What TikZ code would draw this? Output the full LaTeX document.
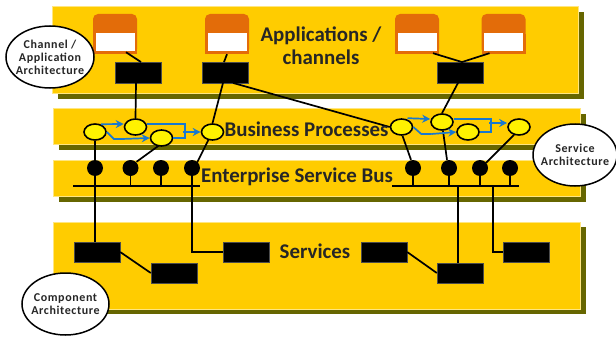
\documentclass[tikz,border=0pt]{standalone}
\usepackage{fontspec}
\setmainfont{Carlito}
\newfontfamily\calloutfont[LetterSpace=5]{Carlito}
\usetikzlibrary{calc,shapes.geometric,arrows.meta}
\definecolor{bandy}{HTML}{FFCC00}
\definecolor{bandedge}{HTML}{FFE680}
\definecolor{shade}{HTML}{666600}
\definecolor{orng}{HTML}{E36C09}
\definecolor{flow}{HTML}{1878D0}
\definecolor{ink}{HTML}{262626}
\tikzset{
  x=1pt,y=-1pt,
  band/.style={fill=bandy,draw=bandedge,line width=.8pt},
  bandshadow/.style={fill=shade,draw=none},
  win/.style={rectangle,fill=orng,draw=none,rounded corners=5pt,minimum width=44pt,minimum height=40pt,inner sep=0pt},
  winsq/.style={fill=orng,draw=none},
  pane/.style={fill=white,draw=none},
  blk/.style={rectangle,fill=black,draw=black!70,line width=.4pt,minimum width=46pt,minimum height=20.5pt,inner sep=0pt},
  proc/.style={ellipse,fill=yellow,draw=black,line width=1.6pt,minimum width=22pt,minimum height=16pt,inner sep=0pt},
  dot/.style={circle,fill=black,minimum size=16pt,inner sep=0pt},
  bus/.style={rectangle,fill=black,minimum height=2.2pt,inner sep=0pt},
  conn/.style={draw=black,line width=1.7pt},
  flowline/.style={draw=flow,line width=1.7pt},
  flowarrow/.style={draw=flow,line width=1.7pt,-{Stealth[length=8pt,width=8pt]}},
  title/.style={text=ink,font=\bfseries\fontsize{20.9}{23}\selectfont,align=center,inner sep=0pt},
  callout/.style={ellipse,fill=white,draw=black,line width=1.5pt,inner sep=0pt},
  callouttext/.style={inner sep=0pt,align=center,text=ink,font=\calloutfont\bfseries\fontsize{12}{13}\selectfont},
}
\begin{document}
\begin{tikzpicture}
\useasboundingbox (0,0) rectangle (616,337);
% bands
\fill[bandshadow] (58,12) rectangle (584,99);
\draw[band] (52.5,6.5) rectangle (578.5,93.5);
\fill[bandshadow] (59,114) rectangle (586,150);
\draw[band] (53.5,108.5) rectangle (580.5,144);
\fill[bandshadow] (59,166) rectangle (586,202);
\draw[band] (53.5,160.5) rectangle (580.5,196);
\fill[bandshadow] (59,227) rectangle (586,314);
\draw[band] (53.5,222.5) rectangle (580.5,309);
% application windows
\foreach \n/\cx in {w1/115,w2/227,w3/417,w4/503.5}{
  \node[win] (\n) at (\cx,34) {};
  \fill[winsq] (\cx-22,34) rectangle (\cx+22,54);
  \fill[pane] (\cx-19.5,33.5) rectangle (\cx+19.5,51);
}
% black boxes
\node[blk] (b1) at (138,72.5) {};
\node[blk] (b2) at (225,72.5) {};
\node[blk] (b3) at (460,72.5) {};
\node[blk] (s1) at (97,252) {};
\node[blk] (s2) at (174,273) {};
\node[blk] (s3) at (246,252) {};
\node[blk] (s4) at (384,252) {};
\node[blk] (s5) at (460,273) {};
\node[blk] (s6) at (526,252) {};
% process ellipses
\node[proc] (y1) at (95,132) {};
\node[proc] (y2) at (135.5,127) {};
\node[proc] (y3) at (161.5,138) {};
\node[proc] (y4) at (212.5,132) {};
\node[proc] (y5) at (401.5,127) {};
\node[proc] (y6) at (442,122) {};
\node[proc] (y7) at (468,132) {};
\node[proc] (y8) at (519,127) {};
% bus
\node[bus,minimum width=127pt] (bus1) at (136.5,186) {};
\node[bus,minimum width=127pt] (bus2) at (455.5,186) {};
% dots
\foreach \n/\cx in {d1/95,d2/130.5,d3/161,d4/192,d5/413,d6/449,d7/480,d8/510}
  \node[dot] (\n) at (\cx,168) {};
% window to black box
\draw[conn] ($(w1.south)+(11,-2)$) -- ($(b1.north)+(3,0)$);
\draw[conn] ($(w2.south)+(0,0)$) -- ($(b2.north)+(-1,0)$);
\draw[conn] ($(w3.south)+(16,-1)$) -- ($(b3.north)+(2,0)$);
\draw[conn] ($(w4.south)+(-14,-1)$) -- ($(b3.north)+(2,0)$);
% black box to process
\draw[conn] ($(b1.south)+(-2,0)$) -- (y2.north);
\draw[conn] ($(b2.south)+(-2,0)$) -- (y4.north);
\draw[conn] ($(b2.south)+(8,0)$) -- (y5.west);
\draw[conn] ($(b3.south)+(-2,0)$) -- (y6.north);
% process to dot
\draw[conn] (y1.south) -- (d1.north);
\draw[conn] ($(y3.south)+(-3,-1)$) -- ($(d2.north)+(6,2)$);
\draw[conn] ($(y4.south)+(-4,-1)$) -- ($(d4.north)+(5,3)$);
\draw[conn] ($(y5.south)+(1,0)$) -- ($(d5.north)+(-2,0)$);
\draw[conn] ($(y6.south)+(1,0)$) -- ($(d6.north)+(-2,0)$);
\draw[conn] ($(y8.south)+(-5,-1)$) -- ($(d7.north)+(6,3)$);
% stems
\foreach \n/\b in {d1/bus1,d2/bus1,d3/bus1,d4/bus1,d5/bus2,d6/bus2,d7/bus2,d8/bus2}
  \draw[conn] (\n.south) -- (\n.south |- \b.north);
% bus to services
\draw[conn] (d1.south) -- (d1.south |- s1.north);
\draw[conn] (d4.south) |- (s3.west);
\coordinate (tap5) at ($(bus2.south)+(2.5,0)$);
\draw[conn] (tap5) -- (tap5 |- s5.north);
\coordinate (tap6) at ($(bus2.south)+(37.5,0)$);
\draw[conn] (tap6) |- (s6.west);
\draw[conn] (s1.east) -- (s2.west);
\draw[conn] (s4.east) -- (s5.west);
% flows, left
\draw[flowarrow] ($(y1.north)+(6,1)$) -- ($(y2.west)+(0,-3)$);
\draw[flowline] (y1.east) -- ++(7,7) -- ++(8,0);
\draw[flowarrow] ($(y1.east)+(15,7)$) -- (y3.west);
\draw[flowline] ($(y2.east)+(0,-3)$) -- ++(38,0) |- (y3.east);
\draw[flowarrow] ($(y4.west)+(-18,0)$) -- (y4.west);
% flows, right
\draw[flowarrow] ($(y5.north)+(6,0)$) -- ($(y6.west)+(0,-3)$);
\draw[flowline] (y5.east) -- ++(8,7) -- ++(10,0);
\draw[flowarrow] ($(y5.east)+(18,7)$) -- (y7.west);
\draw[flowline] ($(y6.east)+(0,-3)$) -- ++(37,0) |- (y7.east);
\draw[flowarrow] ($(y8.west)+(-18,-4)$) -- ($(y8.west)+(0,-4)$);
% titles
\node[title] (t1) at (321,46) {Applications /\\channels};
\node[title] (t2) at (306.5,129) {Business Processes};
\node[title] (t3) at (297,177) {Enterprise Service Bus};
\node[title] (t4) at (315,251) {Services};
% callouts
\node[callout,minimum width=88pt,minimum height=62pt] (c1) at (50,57) {};
\node[callouttext] (c1t) at (c1) {Channel /\\Application\\Architecture};
\node[callout,minimum width=84pt,minimum height=62pt] (c2) at (575,155) {};
\node[callouttext] (c2t) at (c2) {Service\\Architecture};
\node[callout,minimum width=87pt,minimum height=62pt] (c3) at (65.5,304) {};
\node[callouttext] (c3t) at (c3) {Component\\Architecture};
\end{tikzpicture}
\end{document}
